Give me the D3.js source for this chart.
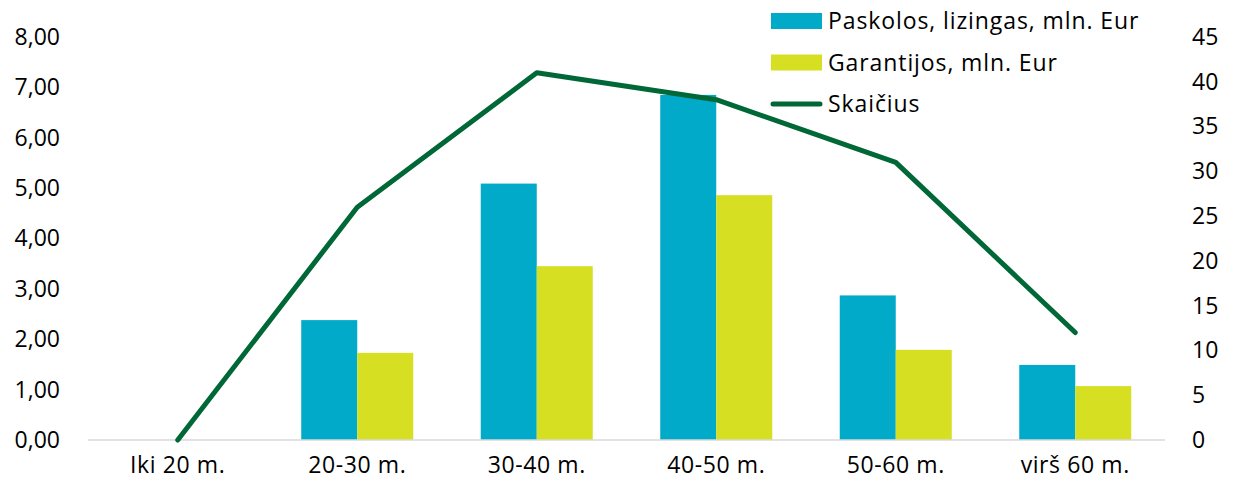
<!DOCTYPE html>
<html>
<head>
<meta charset="utf-8">
<script src="https://cdn.jsdelivr.net/npm/d3@7"></script>
<style>
  body { margin: 0; background: #fff; }
  text { font-family: "Open Sans", "Noto Sans", sans-serif; fill: #000; }
</style>
</head>
<body>
<div id="chart"></div>
<script>
const categories = ["Iki 20 m.", "20-30 m.", "30-40 m.", "40-50 m.", "50-60 m.", "virš 60 m."];
const paskolos = [0, 2.38, 5.09, 6.85, 2.87, 1.49];
const garantijos = [0, 1.73, 3.45, 4.86, 1.79, 1.07];
const skaicius = [0, 26, 41, 38, 31, 12];
const leftTicks = [0, 1, 2, 3, 4, 5, 6, 7, 8];
const rightTicks = [0, 5, 10, 15, 20, 25, 30, 35, 40, 45];
const seriesNames = ["Paskolos, lizingas, mln. Eur", "Garantijos, mln. Eur", "Skaičius"];

const width = 1235, height = 492;
const colors = ["#00aac8", "#d7df23", "#006837"];
const fontSize = "23px";

const svg = d3.select("#chart").append("svg")
  .attr("width", width).attr("height", height);

const x = d3.scaleBand().domain(categories).range([88, 1165])
  .paddingInner(0.376).paddingOuter(0.188);
const x1 = d3.scaleBand().domain([0, 1]).range([0, x.bandwidth()]);
const yL = d3.scaleLinear().domain([0, 8]).range([440, 37]);
const yR = d3.scaleLinear().domain([0, 45]).range([440, 37]);

// BARS
const groups = svg.append("g").selectAll("g")
  .data(categories).join("g")
  .attr("transform", d => `translate(${x(d)},0)`);

groups.append("rect")
  .attr("x", x1(0)).attr("width", x1.bandwidth())
  .attr("y", (d, i) => yL(paskolos[i]))
  .attr("height", (d, i) => yL(0) - yL(paskolos[i]))
  .attr("fill", colors[0]);

groups.append("rect")
  .attr("x", x1(1)).attr("width", x1.bandwidth())
  .attr("y", (d, i) => yL(garantijos[i]))
  .attr("height", (d, i) => yL(0) - yL(garantijos[i]))
  .attr("fill", colors[1]);

// BASELINE
svg.append("line")
  .attr("x1", 88).attr("x2", 1165)
  .attr("y1", yL(0)).attr("y2", yL(0))
  .attr("stroke", "#d9d9d9").attr("stroke-width", 1.5);

// LINE
const line = d3.line()
  .x((d, i) => x(categories[i]) + x.bandwidth() / 2)
  .y(d => yR(d));

svg.append("path")
  .datum(skaicius)
  .attr("d", line)
  .attr("fill", "none")
  .attr("stroke", colors[2])
  .attr("stroke-width", 5)
  .attr("stroke-linecap", "round")
  .attr("stroke-linejoin", "round");

// AXES
const leftAxis = d3.axisLeft(yL).tickValues(leftTicks)
  .tickFormat(d => d3.format(".2f")(d).replace(".", ","))
  .tickSize(0).tickPadding(0);
svg.append("g").attr("transform", "translate(60,0)").call(leftAxis)
  .call(g => g.select(".domain").remove())
  .selectAll("text").style("font-size", fontSize)
  .style("font-family", '"Open Sans", sans-serif').attr("fill", "#000");

const rightAxis = d3.axisRight(yR).tickValues(rightTicks)
  .tickSize(0).tickPadding(0);
svg.append("g").attr("transform", "translate(1192,0)").call(rightAxis)
  .call(g => g.select(".domain").remove())
  .selectAll("text").style("font-size", fontSize)
  .style("font-family", '"Open Sans", sans-serif').attr("fill", "#000");

const bottomAxis = d3.axisBottom(x).tickSize(0).tickPadding(0);
svg.append("g").attr("transform", "translate(0,457)").call(bottomAxis)
  .call(g => g.select(".domain").remove())
  .selectAll("text").style("font-size", fontSize)
  .style("letter-spacing", "0.6px")
  .style("font-family", '"Open Sans", sans-serif').attr("fill", "#000");

// LEGEND
const legend = svg.append("g").attr("transform", "translate(771,0)");
seriesNames.forEach((name, i) => {
  const cy = 21 + i * 41.5;
  if (i < 2) {
    legend.append("rect").attr("x", 0).attr("y", cy - 8)
      .attr("width", 51).attr("height", 16).attr("fill", colors[i]);
  } else {
    legend.append("line").attr("x1", 2).attr("x2", 49)
      .attr("y1", cy).attr("y2", cy)
      .attr("stroke", colors[2]).attr("stroke-width", 5)
      .attr("stroke-linecap", "round");
  }
  legend.append("text").attr("x", 57).attr("y", cy)
    .attr("dy", "0.35em").style("font-size", fontSize)
    .style("letter-spacing", "0.9px").text(name);
});
</script>
</body>
</html>
